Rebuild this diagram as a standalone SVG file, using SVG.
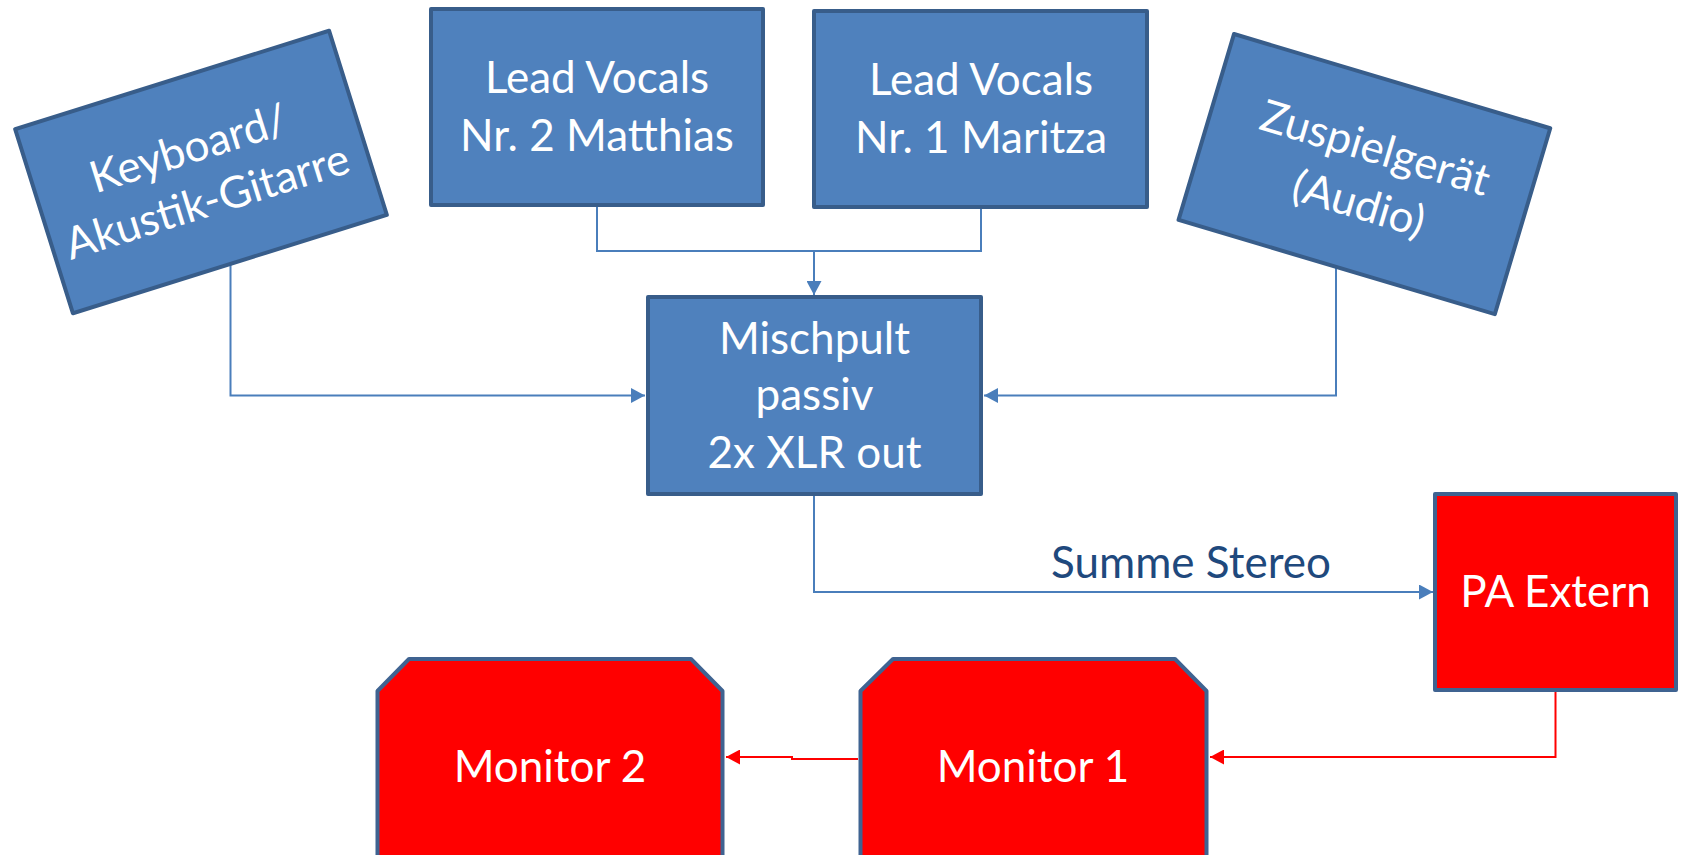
<svg xmlns="http://www.w3.org/2000/svg" width="1681" height="855" viewBox="0 0 1681 855">
<defs>
<style>
.box{fill:#4F81BD;stroke:#385D8A;stroke-width:4;stroke-linejoin:round}
.red{fill:#FF0000;stroke:#3F6391;stroke-width:4;stroke-linejoin:round}
.t{font-family:Lato,"Liberation Sans",sans-serif;font-size:44px;fill:#FFFFFF;text-anchor:middle}
.lbl{font-family:Lato,"Liberation Sans",sans-serif;font-size:44px;fill:#1F497D;text-anchor:middle}
.cb{fill:none;stroke:#4A7EBB;stroke-width:2}
.cr{fill:none;stroke:#FF0000;stroke-width:2}
</style>
<marker id="ab" markerUnits="userSpaceOnUse" markerWidth="15" markerHeight="15" refX="14" refY="7.5" orient="auto"><path d="M0,0 L14,7.5 L0,15 z" fill="#4A7EBB"/></marker>
<marker id="ar" markerUnits="userSpaceOnUse" markerWidth="15" markerHeight="15" refX="14" refY="7.5" orient="auto"><path d="M0,0 L14,7.5 L0,15 z" fill="#FF0000"/></marker>
</defs>
<g id="connectors">
<path class="cb" d="M230.5,250 V395.5 H645" marker-end="url(#ab)"/>
<path class="cb" d="M1336,250 V395.5 H984" marker-end="url(#ab)"/>
<path class="cb" d="M597,200 V251 H981 V200"/>
<path class="cb" d="M814,251 V295" marker-end="url(#ab)"/>
<path class="cb" d="M814,480 V592 H1433" marker-end="url(#ab)"/>
<path class="cr" d="M1555.5,680 V757 H1210" marker-end="url(#ar)"/>
<path class="cr" d="M858,759 H792 V757 H726" marker-end="url(#ar)"/>
</g>
<g id="keyboard" transform="translate(201,172) rotate(-17.4)">
<rect class="box" x="-164.5" y="-96.5" width="329" height="193"/>
<text class="t" x="-5" y="-11">Keyboard/</text>
<text class="t" x="-3" y="45">Akustik-Gitarre</text>
</g>
<g id="lead2">
<rect class="box" x="431" y="9" width="332" height="196"/>
<text class="t" x="597" y="93">Lead Vocals</text>
<text class="t" x="597" y="151">Nr. 2 Matthias</text>
</g>
<g id="lead1">
<rect class="box" x="814" y="11" width="333" height="196"/>
<text class="t" x="981" y="95">Lead Vocals</text>
<text class="t" x="981" y="153">Nr. 1 Maritza</text>
</g>
<g id="zuspiel" transform="translate(1364.4,174.1) rotate(16.6)">
<rect class="box" x="-165" y="-97" width="330" height="194"/>
<text class="t" x="3" y="-13">Zuspielgerät</text>
<text class="t" x="3" y="45">(Audio)</text>
</g>
<g id="mischpult">
<rect class="box" x="648" y="297" width="333" height="197"/>
<text class="t" x="814.5" y="354">Mischpult</text>
<text class="t" x="814.5" y="410">passiv</text>
<text class="t" x="814.5" y="468">2x XLR out</text>
</g>
<g id="summe-label">
<text class="lbl" x="1191" y="578">Summe Stereo</text>
</g>
<g id="pa">
<rect class="red" x="1435" y="494" width="241" height="196"/>
<text class="t" x="1555.5" y="607">PA Extern</text>
</g>
<g id="monitor2">
<path class="red" d="M377.5,870 V691 L409,659 H691 L722.5,691 V870 Z"/>
<text class="t" x="550" y="782">Monitor 2</text>
</g>
<g id="monitor1">
<path class="red" d="M860.5,870 V691 L893,659 H1175 L1206.5,691 V870 Z"/>
<text class="t" x="1033" y="782">Monitor 1</text>
</g>
</svg>
